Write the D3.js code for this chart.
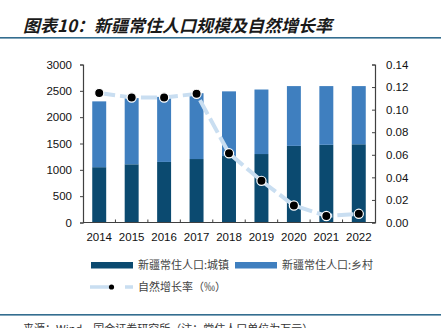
<!DOCTYPE html>
<html><head><meta charset="utf-8">
<script src="https://cdn.jsdelivr.net/npm/d3@7"></script>
<style>
html,body{margin:0;padding:0;background:#fff;}
svg{display:block;}
</style>
</head><body>
<svg id="chart" width="441" height="328"></svg>
<script>
const years = ["2014","2015","2016","2017","2018","2019","2020","2021","2022"];
const urban = [1050,1105,1150,1205,1262,1300,1455,1475,1485];
const rural = [1250,1257,1235,1250,1228,1225,1135,1115,1105];
const growth = [0.1147,0.1108,0.1108,0.1140,0.0613,0.0369,0.0151,0.0058,0.0077];
const leftTicks = [0,500,1000,1500,2000,2500,3000];
const rightTicks = [0,0.02,0.04,0.06,0.08,0.10,0.12,0.14];
const seriesNames = ["新疆常住人口:城镇","新疆常住人口:乡村","自然增长率（‰）"];

const svg = d3.select("#chart");
const C_URBAN = "#0b4a70", C_RURAL = "#3f7fbf", C_LINE = "#c9def1";
const axisColor = "#404040";
const numFont = "'Liberation Sans', Arial, sans-serif";
const cjkFont = "'Noto Sans CJK SC', sans-serif";

// header
svg.append("text").attr("x",23).attr("y",32)
  .attr("font-family",cjkFont).attr("font-size",17).attr("font-weight","bold")
  .attr("font-style","italic").attr("fill","#1a1a1a")
  .text("图表10：新疆常住人口规模及自然增长率");
svg.append("rect").attr("x",0).attr("y",37).attr("width",441).attr("height",1.6).attr("fill","#336d8f");
svg.append("rect").attr("x",0).attr("y",314).attr("width",441).attr("height",1.6).attr("fill","#336d8f");
svg.append("text").attr("x",23).attr("y",333)
  .attr("font-family",cjkFont).attr("font-size",11).attr("fill","#333")
  .text("来源：Wind，国金证券研究所（注：常住人口单位为万元）");

const L = 83, R = 375, T = 64.5, B = 222.5;
const x = d3.scaleBand().domain(years).range([L,R]).paddingInner(0.57).paddingOuter(0.285);
const xb = d3.scaleBand().domain(years).range([L,R]);
const yL = d3.scaleLinear().domain([0,3000]).range([B,T]);
const yR = d3.scaleLinear().domain([0,0.14]).range([B,T]);

// bars
const g = svg.append("g");
g.selectAll(".u").data(years).join("rect")
  .attr("x",d=>x(d)).attr("width",x.bandwidth())
  .attr("y",(d,i)=>yL(urban[i])).attr("height",(d,i)=>yL(0)-yL(urban[i]))
  .attr("fill",C_URBAN);
g.selectAll(".r").data(years).join("rect")
  .attr("x",d=>x(d)).attr("width",x.bandwidth())
  .attr("y",(d,i)=>yL(urban[i]+rural[i])).attr("height",(d,i)=>yL(urban[i])-yL(urban[i]+rural[i]))
  .attr("fill",C_RURAL);

// axes
const axL = svg.append("g").attr("transform",`translate(${L},0)`)
  .call(d3.axisLeft(yL).tickValues(leftTicks).tickSize(3).tickPadding(8).tickFormat(d3.format("d")));
const axR = svg.append("g").attr("transform",`translate(${R},0)`)
  .call(d3.axisRight(yR).tickValues(rightTicks).tickSize(-3).tickPadding(11).tickFormat(d3.format(".2f")));
const axB = svg.append("g").attr("transform",`translate(0,${B})`)
  .call(d3.axisBottom(xb).tickSize(0).tickPadding(10));
// inner x ticks at band boundaries
svg.append("g").selectAll("line").data(years.slice(1)).join("line")
  .attr("x1",d=>xb(d)).attr("x2",d=>xb(d)).attr("y1",B).attr("y2",B-3)
  .attr("stroke",axisColor);
[axL,axR,axB].forEach(a=>{
  a.select(".domain").attr("stroke",axisColor).attr("stroke-width",1.2);
  a.selectAll(".tick line").attr("stroke",axisColor);
  a.selectAll("text").attr("font-family",numFont).attr("font-size",11.5).attr("fill","#111");
});
axB.select(".domain").attr("d",`M${L},0H${R}`);

// line
const line = d3.line().x((d,i)=>xb(years[i])+xb.bandwidth()/2).y(d=>yR(d));
svg.append("path").datum(growth).attr("d",line)
  .attr("fill","none").attr("stroke",C_LINE).attr("stroke-width",4)
  .attr("stroke-dasharray","16,5");
svg.selectAll(".pt").data(growth).join("circle")
  .attr("cx",(d,i)=>xb(years[i])+xb.bandwidth()/2).attr("cy",d=>yR(d))
  .attr("r",4.6).attr("fill","#000").attr("stroke","#fff").attr("stroke-width",1.2);

// legend
const lg = svg.append("g");
lg.append("rect").attr("x",91).attr("y",262).attr("width",42).attr("height",6.5).attr("fill",C_URBAN);
lg.append("text").attr("x",138).attr("y",269).attr("font-family",cjkFont).attr("font-size",11).attr("fill","#444").text(seriesNames[0]);
lg.append("rect").attr("x",235).attr("y",262).attr("width",42).attr("height",6.5).attr("fill",C_RURAL);
lg.append("text").attr("x",282).attr("y",269).attr("font-family",cjkFont).attr("font-size",11).attr("fill","#444").text(seriesNames[1]);
lg.append("line").attr("x1",90).attr("x2",109).attr("y1",287).attr("y2",287).attr("stroke",C_LINE).attr("stroke-width",3.5);
lg.append("line").attr("x1",125).attr("x2",133).attr("y1",287).attr("y2",287).attr("stroke",C_LINE).attr("stroke-width",3.5);
lg.append("circle").attr("cx",111.5).attr("cy",287).attr("r",2.6).attr("fill","#000");
lg.append("text").attr("x",138).attr("y",291).attr("font-family",cjkFont).attr("font-size",11).attr("fill","#444").text(seriesNames[2]);
</script>
</body></html>
